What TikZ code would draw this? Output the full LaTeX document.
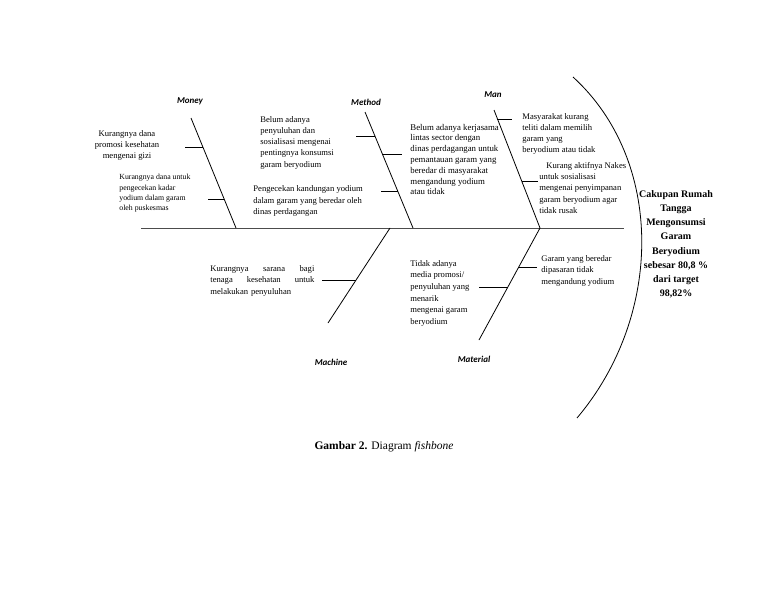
\documentclass[tikz,border=0pt]{standalone}
\usepackage{fontspec}
\setmainfont{Liberation Serif}
\newfontfamily\catfont{Carlito}
\usetikzlibrary{positioning,calc}

\begin{document}
\begin{tikzpicture}[
  x=1pt, y=-1pt,
  line width=0.8pt,
  bone/.style={line width=0.8pt},
  cause/.style={font=\fontsize{8.6}{11}\selectfont, align=left, anchor=north west, inner sep=0pt},
  category/.style={font=\catfont\bfseries\itshape\fontsize{9}{10}\selectfont, inner sep=0pt},
  effect/.style={font=\bfseries\fontsize{10}{14.2}\selectfont, align=center, anchor=north, inner sep=0pt}
]
\useasboundingbox[fill=white] (0,0) rectangle (768,594);

% spine and head
\coordinate (tail) at (141,228);
\coordinate (head) at (624,228);
\draw[line width=1pt, black!70] (tail) -- (head);
\coordinate (headtop) at (573,77);
\coordinate (headbot) at (577,418);
\draw (headtop) .. controls (664,160) and (664,315) .. (headbot);
\node[effect] (effect) at (676,190) {Cakupan Rumah\\Tangga\\Mengonsumsi\\Garam\\Beryodium\\sebesar 80,8 \%\\dari target\\98,82\%};

% main bones
\coordinate (moneyA) at (191,118);   \coordinate (moneyB) at (236,228);
\coordinate (methodA) at (365,112);  \coordinate (methodB) at (413,228);
\coordinate (manA) at (494,110);     \coordinate (manB) at (540,228);
\coordinate (machineA) at (390,228); \coordinate (machineB) at (328,323);
\coordinate (materialA) at (540,228);\coordinate (materialB) at (479,340);
\foreach \b in {money,method,man,machine,material} {
  \draw[bone] (\b A) -- (\b B);
}

% sub bones
\coordinate (mo1) at (185,147); \coordinate (mo1b) at (203,147);
\coordinate (mo2) at (208,199); \coordinate (mo2b) at (224,199);
\coordinate (me1) at (356,136); \coordinate (me1b) at (375,136);
\coordinate (me2) at (382,154); \coordinate (me2b) at (402,154);
\coordinate (me3) at (381,191); \coordinate (me3b) at (398,191);
\coordinate (ma1) at (497,119); \coordinate (ma1b) at (512,119);
\coordinate (ma2) at (522,181); \coordinate (ma2b) at (538,181);
\coordinate (mc1) at (322,280); \coordinate (mc1b) at (356,280);
\coordinate (mt1) at (519,267); \coordinate (mt1b) at (537,267);
\coordinate (mt2) at (479,287); \coordinate (mt2b) at (508,287);
\foreach \s in {mo1,mo2,me1,me2,me3,ma1,ma2,mc1,mt1,mt2} {
  \draw[bone] (\s) -- (\s b);
}

% categories
\node[category] (money) at (190,101) {Money};
\node[category] (method) at (366,102) {Method};
\node[category] (man) at (493,95) {Man};
\node[category] (machine) at (331,362) {Machine};
\node[category] (material) at (474,359) {Material};

% causes
\node[cause, align=center, anchor=north] (moneyA1) at (127,130) {Kurangnya dana\\promosi kesehatan\\mengenai gizi};
\node[cause, font=\fontsize{7.8}{10.3}\selectfont] (moneyA2) at (119,174) {Kurangnya dana untuk\\pengecekan kadar\\yodium dalam garam\\oleh puskesmas};
\node[cause, font=\fontsize{8.6}{11.2}\selectfont] (methodA1) at (260,116) {Belum adanya\\penyuluhan dan\\sosialisasi mengenai\\pentingnya konsumsi\\garam beryodium};
\node[cause, font=\fontsize{8.6}{11.8}\selectfont] (methodA2) at (253,185) {Pengecekan kandungan yodium\\dalam garam yang beredar oleh\\dinas perdagangan};
\node[cause, font=\fontsize{8.8}{10.8}\selectfont] (manA1) at (410,123.5) {Belum adanya kerjasama\\lintas sector dengan\\dinas perdagangan untuk\\pemantauan garam yang\\beredar di masyarakat\\mengandung yodium\\atau tidak};
\node[cause, font=\fontsize{8.6}{11}\selectfont] (manA2) at (522,113) {Masyarakat kurang\\teliti dalam memilih\\garam yang\\beryodium atau tidak};
\node[cause, font=\fontsize{8.6}{11.2}\selectfont] (manA3) at (539,162) {\hspace*{7pt}Kurang aktifnya Nakes\\untuk sosialisasi\\mengenai penyimpanan\\garam beryodium agar\\tidak rusak};
\node[cause, font=\fontsize{8.6}{11.5}\selectfont, text width=104pt] (machineA1) at (210,265) {Kurangnya\hfill sarana\hfill bagi\\tenaga\hfill kesehatan\hfill untuk\\melakukan penyuluhan};
\node[cause, font=\fontsize{8.6}{11.6}\selectfont] (materialA1) at (410,260) {Tidak adanya\\media promosi/\\penyuluhan yang\\menarik\\mengenai garam\\beryodium};
\node[cause, font=\fontsize{8.6}{11.5}\selectfont] (materialA2) at (541,255) {Garam yang beredar\\dipasaran tidak\\mengandung yodium};

% caption
\node[font=\fontsize{11.5}{13}\selectfont, inner sep=0pt] (caption) at (384,447) {\textbf{Gambar 2.} Diagram \textit{fishbone}};

\end{tikzpicture}
\end{document}
